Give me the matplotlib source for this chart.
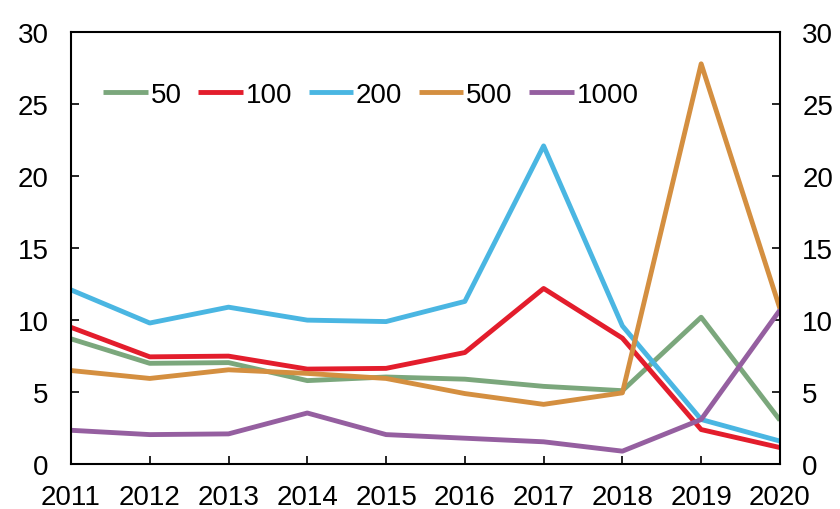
import matplotlib.pyplot as plt

plt.rcParams['font.family'] = ['Liberation Sans', 'DejaVu Sans']

years = [2011, 2012, 2013, 2014, 2015, 2016, 2017, 2018, 2019, 2020]
s50 = [8.7, 7.0, 7.05, 5.8, 6.05, 5.9, 5.4, 5.1, 10.2, 3.05]
s100 = [9.5, 7.45, 7.5, 6.6, 6.65, 7.75, 12.2, 8.75, 2.4, 1.15]
s200 = [12.1, 9.8, 10.9, 10.0, 9.9, 11.3, 22.1, 9.6, 3.1, 1.6]
s500 = [6.5, 5.95, 6.55, 6.3, 5.95, 4.9, 4.15, 4.95, 27.8, 10.8]
s1000 = [2.35, 2.05, 2.1, 3.55, 2.05, 1.8, 1.55, 0.9, 3.1, 10.7]

labels = ["50", "100", "200", "500", "1000"]
colors = ["#7BA77C", "#E31D2C", "#4AB6E2", "#D48F40", "#955FA0"]

fig = plt.figure(figsize=(8.4, 5.1), dpi=100)
ax = fig.add_axes([0.0845, 0.088, 0.844, 0.847])

for vals, lab, c in zip([s50, s100, s200, s500, s1000], labels, colors):
    ax.plot(years, vals, color=c, lw=3.5, label=lab, solid_capstyle="butt")

ax.set_xlim(2011, 2020)
ax.set_ylim(0, 30)
ax.set_xticks(years)
ax.set_yticks(range(0, 31, 5))
ax.tick_params(direction="in", length=6, width=1.2, labelsize=20,
               right=True, labelright=True, top=False)
ax.tick_params(axis="x", pad=14)
ax.tick_params(axis="y", pad=16)
for sp in ax.spines.values():
    sp.set_linewidth(1.5)

ax.legend(loc="center left", bbox_to_anchor=(0.03, 0.855), ncol=5, frameon=False,
          fontsize=20, handlelength=1.6, handletextpad=0.1, columnspacing=0.6,
          borderaxespad=0)

fig.savefig("out.png", dpi=100)
